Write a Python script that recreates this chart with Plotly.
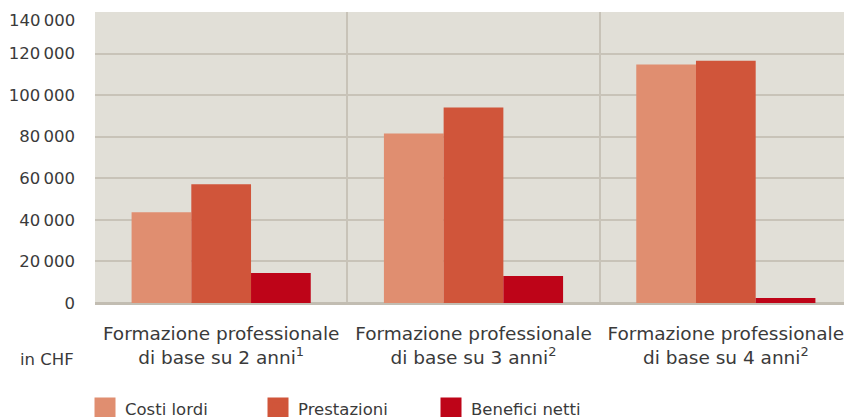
import plotly.graph_objects as go

categories = [
    "Formazione professionale<br>di base su 2 anni<sup>1</sup>",
    "Formazione professionale<br>di base su 3 anni<sup>2</sup>",
    "Formazione professionale<br>di base su 4 anni<sup>2</sup>",
]
series_names = ["Costi lordi", "Prestazioni", "Benefici netti"]
costi_lordi = [43600, 81600, 114700]
prestazioni = [57100, 94000, 116600]
benefici_netti = [14400, 13000, 2400]
y_ticks = [0, 20000, 40000, 60000, 80000, 100000, 120000, 140000]
colors = ["#e08e70", "#d0553a", "#be0418"]

font_family = "DejaVu Sans, Roboto, sans-serif"
text_color = "#3a3a3a"


def fmt(v):
    return f"{v:,}".replace(",", "\u2009")


# the top label is drawn a little lower (inside the chart), as in the original
tick_text = [fmt(v) for v in y_ticks[:-1]] + [""]

fig = go.Figure()
for name, vals, col in zip(series_names, [costi_lordi, prestazioni, benefici_netti], colors):
    fig.add_trace(go.Bar(x=categories, y=vals, name=name, marker_color=col,
                         marker_line_width=0, showlegend=False))
    fig.add_trace(go.Scatter(x=[None], y=[None], mode="markers", name=name,
                             marker=dict(symbol="square", size=20, color=col,
                                         line=dict(color=col, width=5)),
                             showlegend=True))

fig.update_layout(
    width=844, height=409,
    margin=dict(l=87, r=0, t=4, b=114, autoexpand=False),
    paper_bgcolor="white",
    plot_bgcolor="#e1dfd7",
    barmode="group",
    bargap=0.29,
    bargroupgap=0,
    font=dict(family=font_family, color=text_color, size=18),
    legend=dict(orientation="h", x=-0.0132, xanchor="left", y=-0.302, yanchor="top",
                font=dict(size=16.5, color=text_color), itemsizing="trace",
                entrywidth=128, entrywidthmode="pixels", bgcolor="rgba(0,0,0,0)"),
    annotations=[
        dict(text="in CHF", xref="paper", yref="paper", x=0, y=0,
             xanchor="right", yanchor="middle", xshift=-19, yshift=-56,
             showarrow=False, font=dict(size=16.5, color=text_color)),
        dict(text=fmt(y_ticks[-1]), xref="paper", yref="y", x=0, y=y_ticks[-1],
             xanchor="right", yanchor="middle", xshift=-18, yshift=-8,
             showarrow=False, font=dict(size=16.5, color=text_color)),
    ],
)
fig.update_xaxes(type="category", tickson="boundaries", showgrid=True,
                 gridcolor="#c8c3b8", gridwidth=2, ticks="", ticklabelstandoff=17,
                 tickfont=dict(size=18.5), automargin=False,
                 showline=False, zeroline=False, range=[-0.5, 2.5])
fig.update_yaxes(range=[0, 140000], tickvals=y_ticks, ticktext=tick_text,
                 tickfont=dict(size=16.5), automargin=False, ticklabeloverflow="allow",
                 showgrid=True, gridcolor="#c8c3b8", gridwidth=2,
                 zeroline=True, zerolinecolor="#c2bdb2", zerolinewidth=3,
                 ticks="", ticklabelstandoff=19, showline=False)

fig.write_html("out.html")
